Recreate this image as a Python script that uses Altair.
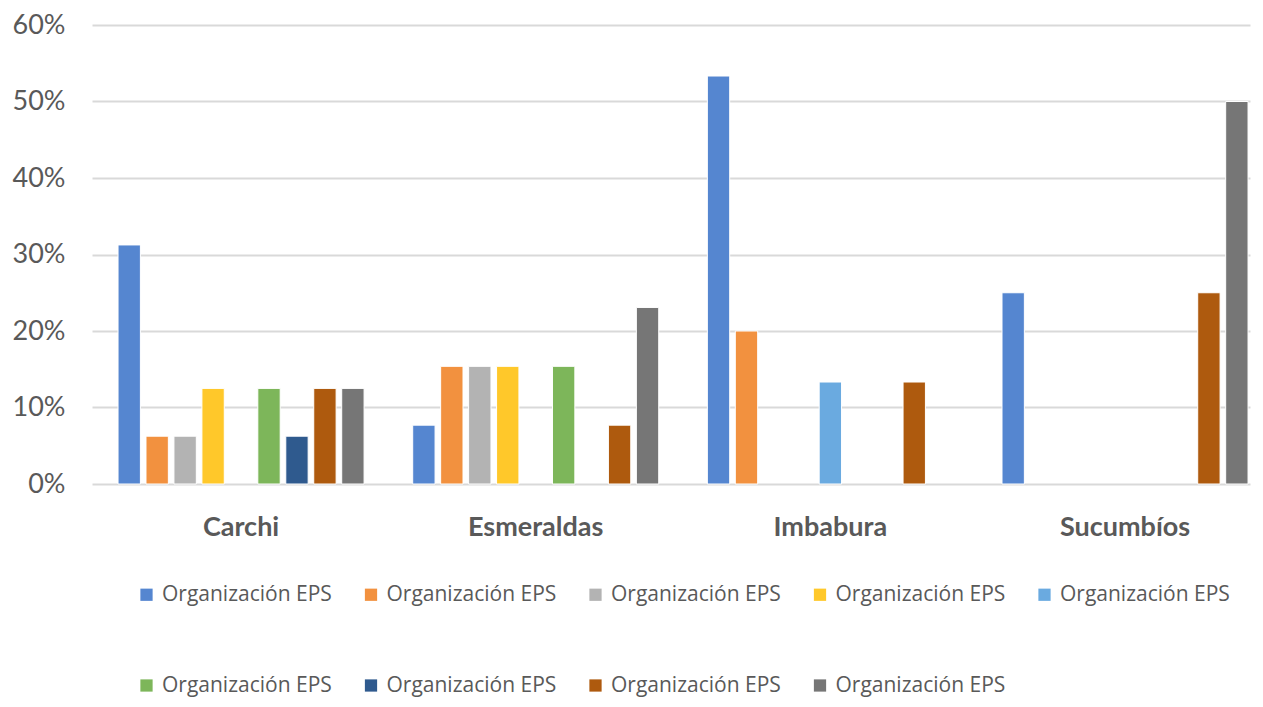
import altair as alt
import pandas as pd

provinces = ["Carchi", "Esmeraldas", "Imbabura", "Sucumbíos"]
series = ["s1", "s2", "s3", "s4", "s5", "s6", "s7", "s8", "s9"]
legend_label = "Organización EPS"
colors = ["#5586D0", "#F2913F", "#B3B3B3", "#FFC82A", "#6AAAE0",
          "#7DB65A", "#2F5A8E", "#AE5A0E", "#767676"]

carchi = [31.25, 6.25, 6.25, 12.5, 0, 12.5, 6.25, 12.5, 12.5]
esmeraldas = [7.69, 15.38, 15.38, 15.38, 0, 15.38, 0, 7.69, 23.08]
imbabura = [53.33, 20.0, 0, 0, 13.33, 0, 0, 13.33, 0]
sucumbios = [25.0, 0, 0, 0, 0, 0, 0, 25.0, 50.0]

values = [carchi, esmeraldas, imbabura, sucumbios]
rows = []
for p, vals in zip(provinces, values):
    for s, v in zip(series, vals):
        rows.append({"province": p, "series": s, "value": v / 100})
df = pd.DataFrame(rows)

chart = alt.Chart(df).mark_bar(stroke="white", strokeWidth=1).encode(
    x=alt.X("province:N", sort=provinces, title=None,
            scale=alt.Scale(domain=provinces, paddingInner=0.165,
                            paddingOuter=0.0475, align=0.93),
            axis=alt.Axis(labelAngle=0, labelFontSize=27, labelFontWeight="bold",
                          labelColor="#595959", labelFont="Lato", labelPadding=30,
                          domain=False, ticks=False)),
    xOffset=alt.XOffset("series:N", sort=series,
                        scale=alt.Scale(domain=series, paddingInner=0.2)),
    y=alt.Y("value:Q", title=None,
            scale=alt.Scale(domain=[0, 0.6]),
            axis=alt.Axis(format=".0%", values=[0, 0.1, 0.2, 0.3, 0.4, 0.5, 0.6],
                          labelFontSize=27, labelColor="#595959", labelFont="Lato",
                          labelPadding=27,
                          domain=False, ticks=False,
                          gridColor="#D9D9D9", gridWidth=2)),
    color=alt.Color("series:N", sort=series,
                    scale=alt.Scale(domain=series, range=colors),
                    legend=alt.Legend(title=None, orient="none",
                                      legendX=44, legendY=559,
                                      direction="horizontal", columns=5,
                                      labelExpr="'" + legend_label + "'",
                                      symbolType="square", symbolSize=150,
                                      symbolStrokeWidth=0,
                                      labelFontSize=21, labelColor="#595959",
                                      labelFont="Open Sans", labelOffset=5,
                                      columnPadding=28.5, rowPadding=69,
                                      labelLimit=300)),
).transform_filter(
    alt.datum.value > 0
).properties(
    width=1158, height=459,
    padding={"left": 84, "top": 17, "right": 5, "bottom": 215},
    autosize=alt.AutoSizeParams(type="none"),
).configure_view(stroke=None)

chart.save("out.html", embed_options={"renderer": "svg", "actions": False})
